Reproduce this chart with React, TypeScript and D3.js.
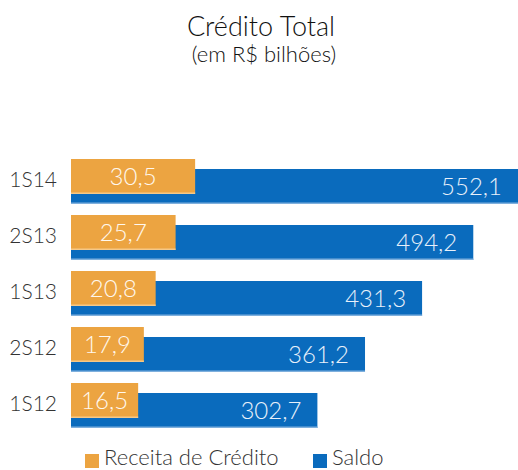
import * as d3 from "d3";

const periods = ["1S14", "2S13", "1S13", "2S12", "1S12"];
const receita = [30.5, 25.7, 20.8, 17.9, 16.5];
const saldo = [552.1, 494.2, 431.3, 361.2, 302.7];
const seriesNames = ["Receita de Crédito", "Saldo"];

const W = 518;
const H = 470;
const ORANGE = "#eca441";
const BLUE = "#0a6bbd";
const FONT = "Lato, 'Open Sans', sans-serif";

const fmt = (v: number) => d3.format(".1f")(v).replace(".", ",");

export default function App() {
  const left = 71;
  const barH = 35;
  // 56px step, 35px bars
  const y = d3.scaleBand().domain(periods).range([159, 418]).paddingInner(0.375).paddingOuter(0);
  // saldo and receita use different scales (receita drawn 5x)
  const xS = d3.scaleLinear().domain([0, 552.1]).range([left, left + 552.1 * 0.814]);
  const xR = d3.scaleLinear().domain([0, 552.1 / 5]).range([left, left + 552.1 * 0.814]);

  return (
    <svg width={W} height={H} style={{ position: "absolute", left: 0, top: 0, background: "#fff" }}>
      <text x={261} y={36} textAnchor="middle" fontFamily={FONT} fontWeight={300} fontSize={27} fill="#111">
        Crédito Total
      </text>
      <text x={264} y={62} textAnchor="middle" fontFamily={FONT} fontWeight={300} fontSize={22} fill="#111">
        (em R$ bilhões)
      </text>

      {periods.map((p, i) => {
        const top = y(p)!;
        const by = top + 10;
        const sx = xS(saldo[i]);
        const rx = xR(receita[i]);
        return (
          <g key={p}>
            <rect x={left} y={by} width={sx - left} height={barH} fill={BLUE} />
            <rect x={left} y={by + barH - 1.5} width={sx - left} height={1.5} fill="#7fb0dd" />
            <text
              x={Math.min(sx, W) - 16}
              y={by + barH / 2}
              dy="0.36em"
              textAnchor="end"
              fontFamily={FONT}
              fontWeight={300}
              fontSize={24}
              fill="#e8f0fa"
            >
              {fmt(saldo[i])}
            </text>
            <rect x={left} y={top} width={rx - left} height={barH} fill={ORANGE} />
            <rect x={left} y={top + barH - 1.5} width={rx - left} height={1.5} fill="#f6c887" />
            <text
              x={(left + rx) / 2}
              y={top + barH / 2}
              dy="0.36em"
              textAnchor="middle"
              fontFamily={FONT}
              fontWeight={300}
              fontSize={24}
              fill="#fff8ee"
            >
              {fmt(receita[i])}
            </text>
            <text
              x={57}
              y={top + 20}
              dy="0.36em"
              textAnchor="end"
              fontFamily={FONT}
              fontWeight={300}
              fontSize={21}
              fill="#333"
            >
              {p}
            </text>
          </g>
        );
      })}

      <rect x={85} y={454} width={14} height={14} fill={ORANGE} />
      <text x={104} y={465} fontFamily={FONT} fontWeight={300} fontSize={22} fill="#333">
        {seriesNames[0]}
      </text>
      <rect x={313} y={454} width={14} height={14} fill={BLUE} />
      <text x={332} y={465} fontFamily={FONT} fontWeight={300} fontSize={22} fill="#333">
        {seriesNames[1]}
      </text>
    </svg>
  );
}
